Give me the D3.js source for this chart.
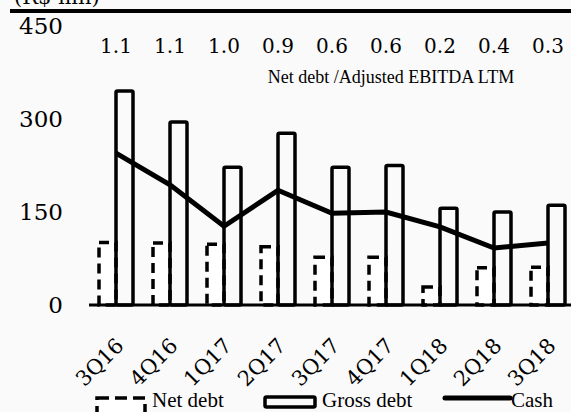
<!DOCTYPE html>
<html>
<head>
<meta charset="utf-8">
<script src="https://cdn.jsdelivr.net/npm/d3@7"></script>
<style>
body{margin:0;background:#fafafa;}
svg{display:block;}
</style>
</head>
<body>
<div id="plot"></div>
<script>
// data
var quarters = ['3Q16','4Q16','1Q17','2Q17','3Q17','4Q17','1Q18','2Q18','3Q18'];
var netDebt = [101, 100, 98, 94, 77, 77, 29, 60, 61];
var grossDebt = [345, 295, 222, 277, 222, 225, 156, 150, 161];
var cash = [245, 194, 127, 185, 148, 150, 126, 92, 100];
var ratios = ['1.1','1.1','1.0','0.9','0.6','0.6','0.2','0.4','0.3'];
var yTicks = [0, 150, 300, 450];

var width = 571, height = 412;
var numFont = '"DejaVu Serif", serif';
var txtFont = '"Liberation Serif", serif';

var svg = d3.select('#plot')
	.append('svg')
	.attr('width', width)
	.attr('height', height);

var x = d3.scaleBand().domain(quarters).range([89, 575]);
var y = d3.scaleLinear().domain([0, 450]).range([305, 26]);
var bw = 17;

// cut-off unit title and top rule
svg.append('text')
	.attr('x', 14).attr('y', 4)
	.style('font-family', numFont).style('font-size', '21px')
	.text('(R$ mn)');
svg.append('line')
	.attr('x1', 10).attr('x2', width)
	.attr('y1', 11).attr('y2', 11)
	.style('stroke', '#000').style('stroke-width', 4);

// y tick labels
svg.selectAll('.ytick')
	.data(yTicks)
	.enter()
	.append('text')
	.attr('class', 'ytick')
	.attr('x', 63)
	.attr('y', function(d){ return y(d) + 8; })
	.attr('text-anchor', 'end')
	.style('font-family', numFont).style('font-size', '23px')
	.text(function(d){ return d; });

// net debt bars (dashed)
svg.selectAll('.net')
	.data(quarters)
	.enter()
	.append('rect')
	.attr('class', 'net')
	.attr('x', function(d){ return x(d) + x.bandwidth()/2 - bw; })
	.attr('y', function(d, i){ return y(netDebt[i]); })
	.attr('width', bw)
	.attr('height', function(d, i){ return y(0) - y(netDebt[i]); })
	.style('fill', '#fff')
	.style('stroke', '#000')
	.style('stroke-width', 3.5)
	.style('stroke-dasharray', '10,6');

// gross debt bars
svg.selectAll('.gross')
	.data(quarters)
	.enter()
	.append('rect')
	.attr('class', 'gross')
	.attr('x', function(d){ return x(d) + x.bandwidth()/2; })
	.attr('y', function(d, i){ return y(grossDebt[i]); })
	.attr('width', bw)
	.attr('height', function(d, i){ return y(0) - y(grossDebt[i]); })
	.attr('rx', 1.5)
	.style('fill', 'none')
	.style('stroke', '#000')
	.style('stroke-width', 3.5);

// cash line
var line = d3.line()
	.x(function(d, i){ return x(quarters[i]) + x.bandwidth()/2; })
	.y(function(d){ return y(d); });
svg.append('path')
	.datum(cash)
	.attr('d', line)
	.style('fill', 'none')
	.style('stroke', '#000')
	.style('stroke-width', 5);

// baseline
svg.append('line')
	.attr('x1', 89).attr('x2', width)
	.attr('y1', y(0)).attr('y2', y(0))
	.style('stroke', '#000').style('stroke-width', 3);

// ratio labels
svg.selectAll('.ratio')
	.data(ratios)
	.enter()
	.append('text')
	.attr('class', 'ratio')
	.attr('x', function(d, i){ return x(quarters[i]) + x.bandwidth()/2; })
	.attr('y', 53)
	.attr('text-anchor', 'middle')
	.style('font-family', numFont).style('font-size', '20px')
	.text(function(d){ return d; });
svg.append('text')
	.attr('x', 391).attr('y', 83)
	.attr('text-anchor', 'middle')
	.style('font-family', txtFont).style('font-size', '18px')
	.text('Net debt /Adjusted EBITDA LTM');

// x labels, rotated
svg.selectAll('.xlab')
	.data(quarters)
	.enter()
	.append('text')
	.attr('class', 'xlab')
	.attr('text-anchor', 'end')
	.attr('transform', function(d){
		return 'translate(' + (x(d) + x.bandwidth()/2 + 9) + ',' + 347 + ') rotate(-45)';
	})
	.style('font-family', numFont).style('font-size', '21px')
	.text(function(d){ return d; });

// legend
var lg = svg.append('g').attr('class', 'legend');
lg.append('rect')
	.attr('x', 97).attr('y', 398).attr('width', 48).attr('height', 16)
	.style('fill', '#fff').style('stroke', '#000')
	.style('stroke-width', 3.5).style('stroke-dasharray', '12,6');
lg.append('text').attr('x', 152).attr('y', 407)
	.style('font-family', txtFont).style('font-size', '21px').text('Net debt');
lg.append('rect')
	.attr('x', 265).attr('y', 397).attr('width', 50).attr('height', 10)
	.attr('rx', 1.5)
	.style('fill', 'none').style('stroke', '#000').style('stroke-width', 3.5);
lg.append('text').attr('x', 322).attr('y', 407)
	.style('font-family', txtFont).style('font-size', '21px').text('Gross debt');
lg.append('line')
	.attr('x1', 445).attr('x2', 510).attr('y1', 398).attr('y2', 398)
	.style('stroke', '#000').style('stroke-width', 5).style('stroke-linecap', 'round');
lg.append('text').attr('x', 511).attr('y', 407)
	.style('font-family', txtFont).style('font-size', '21px').text('Cash');
</script>
</body>
</html>
